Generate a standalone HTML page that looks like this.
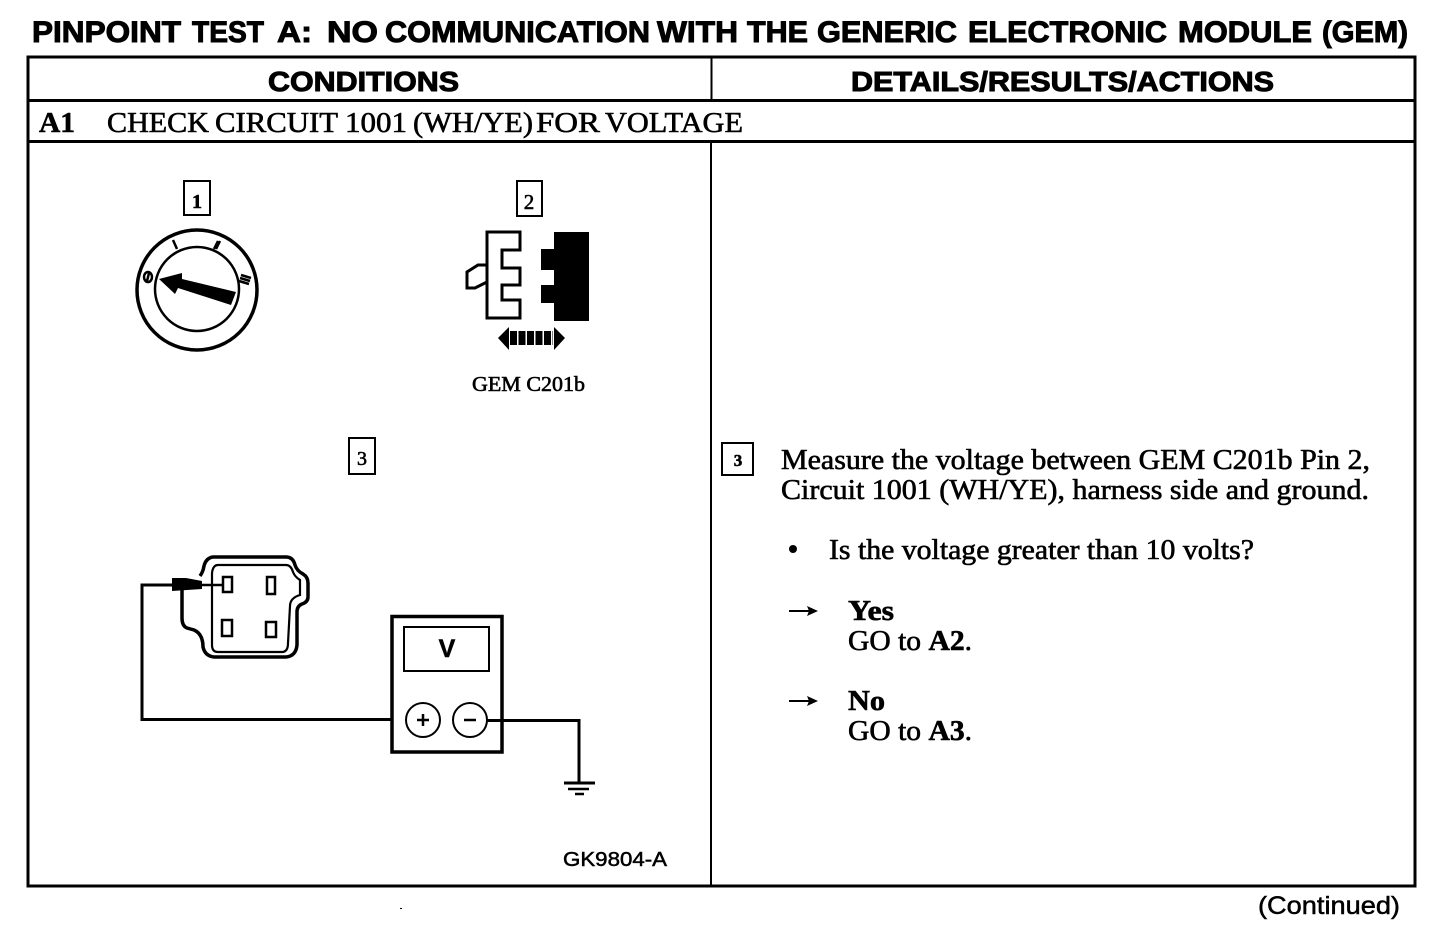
<!DOCTYPE html>
<html><head><meta charset="utf-8"><style>
html,body{margin:0;padding:0;background:#fff;width:1456px;height:938px;overflow:hidden}
svg{display:block}
.s{font-family:"Liberation Serif",serif;fill:#000;stroke:#000;stroke-width:.6}
.h{font-family:"Liberation Sans",sans-serif;font-weight:bold;fill:#000;stroke:#000;stroke-width:1}
.a{font-family:"Liberation Sans",sans-serif;fill:#000;stroke:#000;stroke-width:.5}
.l{fill:none;stroke:#000}
</style></head><body>
<svg width="1456" height="938" viewBox="0 0 1456 938" xmlns="http://www.w3.org/2000/svg">
<g font-size="30">
<text class="h" x="32" y="42" textLength="149" lengthAdjust="spacingAndGlyphs">PINPOINT</text>
<text class="h" x="192" y="42" textLength="72" lengthAdjust="spacingAndGlyphs">TEST</text>
<text class="h" x="277" y="42" textLength="35" lengthAdjust="spacingAndGlyphs">A:</text>
<text class="h" x="327" y="42" textLength="51" lengthAdjust="spacingAndGlyphs">NO</text>
<text class="h" x="385" y="42" textLength="265" lengthAdjust="spacingAndGlyphs">COMMUNICATION</text>
<text class="h" x="657" y="42" textLength="81" lengthAdjust="spacingAndGlyphs">WITH</text>
<text class="h" x="747" y="42" textLength="61" lengthAdjust="spacingAndGlyphs">THE</text>
<text class="h" x="817" y="42" textLength="140" lengthAdjust="spacingAndGlyphs">GENERIC</text>
<text class="h" x="968" y="42" textLength="199" lengthAdjust="spacingAndGlyphs">ELECTRONIC</text>
<text class="h" x="1178" y="42" textLength="134" lengthAdjust="spacingAndGlyphs">MODULE</text>
<text class="h" x="1322" y="42" textLength="86" lengthAdjust="spacingAndGlyphs">(GEM)</text>
</g>
<path class="l" stroke-width="3" d="M28 57H1415V886H28Z"/>
<path class="l" stroke-width="3" d="M28 100.500H1415M28 141.500H1415"/>
<path class="l" stroke-width="2" d="M711.500 57V100M711 143V886"/>
<text class="h" x="268" y="91" font-size="28" textLength="191" lengthAdjust="spacingAndGlyphs">CONDITIONS</text>
<text class="h" x="851" y="91" font-size="28" textLength="423" lengthAdjust="spacingAndGlyphs">DETAILS/RESULTS/ACTIONS</text>
<g font-size="29">
<text class="s" x="39" y="132" font-weight="bold" textLength="36" lengthAdjust="spacingAndGlyphs">A1</text>
<text class="s" x="107" y="132" textLength="102" lengthAdjust="spacingAndGlyphs">CHECK</text>
<text class="s" x="215" y="132" textLength="123" lengthAdjust="spacingAndGlyphs">CIRCUIT</text>
<text class="s" x="345" y="132" textLength="62" lengthAdjust="spacingAndGlyphs">1001</text>
<text class="s" x="413" y="132" textLength="120" lengthAdjust="spacingAndGlyphs">(WH/YE)</text>
<text class="s" x="536" y="132" textLength="64" lengthAdjust="spacingAndGlyphs">FOR</text>
<text class="s" x="605" y="132" textLength="138" lengthAdjust="spacingAndGlyphs">VOLTAGE</text>
</g>

<path class="l" stroke-width="2" d="M184 181H210V215H184Z"/>
<text class="s" x="197" y="208" font-size="20" text-anchor="middle" font-weight="bold">1</text>
<circle class="l" cx="197" cy="290" r="60" stroke-width="3.500"/>
<circle class="l" cx="197" cy="289" r="42" stroke-width="2.500"/>
<path d="M159 279L182 273L182 279L236 292L231 305L178 288L175 294Z"/>
<g stroke="#000" stroke-width="2.500" fill="none">
<path d="M173 240L177 249M218 241L214 249M220 241L216 249"/>
<ellipse cx="148" cy="277" rx="4" ry="5"/>
<path d="M149 273L147 281"/>
<path d="M241 275L251 278M240 278L250 281M239 281L249 284"/>
</g>

<path class="l" stroke-width="2" d="M517 181H542V216H517Z"/>
<text class="s" x="529" y="209" font-size="21" text-anchor="middle">2</text>
<path class="l" stroke-width="3" d="M487 232H520V250H502V268H520V285H502V300H520V318H487Z"/>
<path class="l" stroke-width="3" d="M487 265H478L467 272V288H475L487 282"/>
<path d="M554 232H589V321H554V303H541V285H554V270H541V249H554Z"/>
<path d="M498 338L509 327V350ZM565 338L554 327V350Z"/>
<path class="l" stroke-width="14" stroke-dasharray="7 1.500" d="M510 338H553"/>
<text class="s" x="472" y="391" font-size="21" textLength="113" lengthAdjust="spacingAndGlyphs">GEM C201b</text>

<path class="l" stroke-width="2" d="M349 438H375V474H349Z"/>
<text class="s" x="362" y="465" font-size="20" text-anchor="middle">3</text>

<path class="l" stroke-width="3.500" d="M200 576Q203 572 204 566Q206 558 213 557H286Q293 557 295 565Q297 571 303 574Q308 577 308 583V597Q308 602 302 604Q297 606 297 612V645Q296 656 286 657H214Q205 656 203 647Q203 634 194 630L187 628Q182 626 182 618V590"/>
<path class="l" stroke-width="2.200" d="M212 573Q213 565 218 565H286Q291 565 293 572Q295 577 300 580V595Q290 598 290 606L288 643Q288 652 282 652H218Q212 652 212 645Z"/>
<path class="l" stroke-width="2.500" d="M223 577H232V592H223ZM267 577H275V594H267ZM222 620H232V636H222ZM266 622H276V637H266Z"/>
<path d="M172 578L186 578L202 581V589L172 591Z"/>
<path class="l" stroke-width="2.500" d="M200 585H223"/>
<path class="l" stroke-width="3" d="M172 585H142V719.500H392"/>

<path class="l" stroke-width="3.500" d="M392 616.500H502V752H392Z"/>
<path class="l" stroke-width="2" d="M404 627H489V671H404Z"/>
<text class="a" x="447" y="657" font-size="25" text-anchor="middle" font-weight="bold">V</text>
<circle class="l" cx="423" cy="720" r="17" stroke-width="2"/>
<circle class="l" cx="470" cy="720" r="17" stroke-width="2"/>
<path class="l" stroke-width="2.500" d="M417 720H429M423 714V726M464 720H476"/>
<path class="l" stroke-width="3" d="M487 720.500H579V783"/>
<path class="l" stroke-width="3" d="M564 783H595"/>
<path class="l" stroke-width="2.500" d="M568 789H589M575 794H584"/>

<text class="a" x="563" y="866" font-size="20" textLength="104" lengthAdjust="spacingAndGlyphs">GK9804-A</text>

<path class="l" stroke-width="2" d="M722 443H753V475H722Z"/>
<text class="s" x="738" y="466" font-size="17" text-anchor="middle" font-weight="bold">3</text>
<text class="s" x="781" y="469" font-size="28" textLength="589" lengthAdjust="spacingAndGlyphs">Measure the voltage between GEM C201b Pin 2,</text>
<text class="s" x="781" y="499" font-size="28" textLength="588" lengthAdjust="spacingAndGlyphs">Circuit 1001 (WH/YE), harness side and ground.</text>
<circle cx="793" cy="549" r="4"/>
<text class="s" x="829" y="559" font-size="28" textLength="425" lengthAdjust="spacingAndGlyphs">Is the voltage greater than 10 volts?</text>
<path class="l" stroke-width="2" d="M789 611H810M789 701H810"/>
<path d="M818 611L807 606L809 611L807 616ZM818 701L807 696L809 701L807 706Z"/>
<text class="s" x="848" y="620" font-size="28" font-weight="bold" textLength="46" lengthAdjust="spacingAndGlyphs">Yes</text>
<text class="s" x="848" y="650" font-size="28" textLength="124" lengthAdjust="spacingAndGlyphs">GO to <tspan font-weight="bold">A2</tspan>.</text>
<text class="s" x="848" y="710" font-size="28" font-weight="bold" textLength="37" lengthAdjust="spacingAndGlyphs">No</text>
<text class="s" x="848" y="740" font-size="28" textLength="124" lengthAdjust="spacingAndGlyphs">GO to <tspan font-weight="bold">A3</tspan>.</text>

<text class="a" x="1258" y="914" font-size="25" textLength="142" lengthAdjust="spacingAndGlyphs">(Continued)</text>
<rect x="400" y="908" width="2" height="1"/>
</svg>
</body></html>
